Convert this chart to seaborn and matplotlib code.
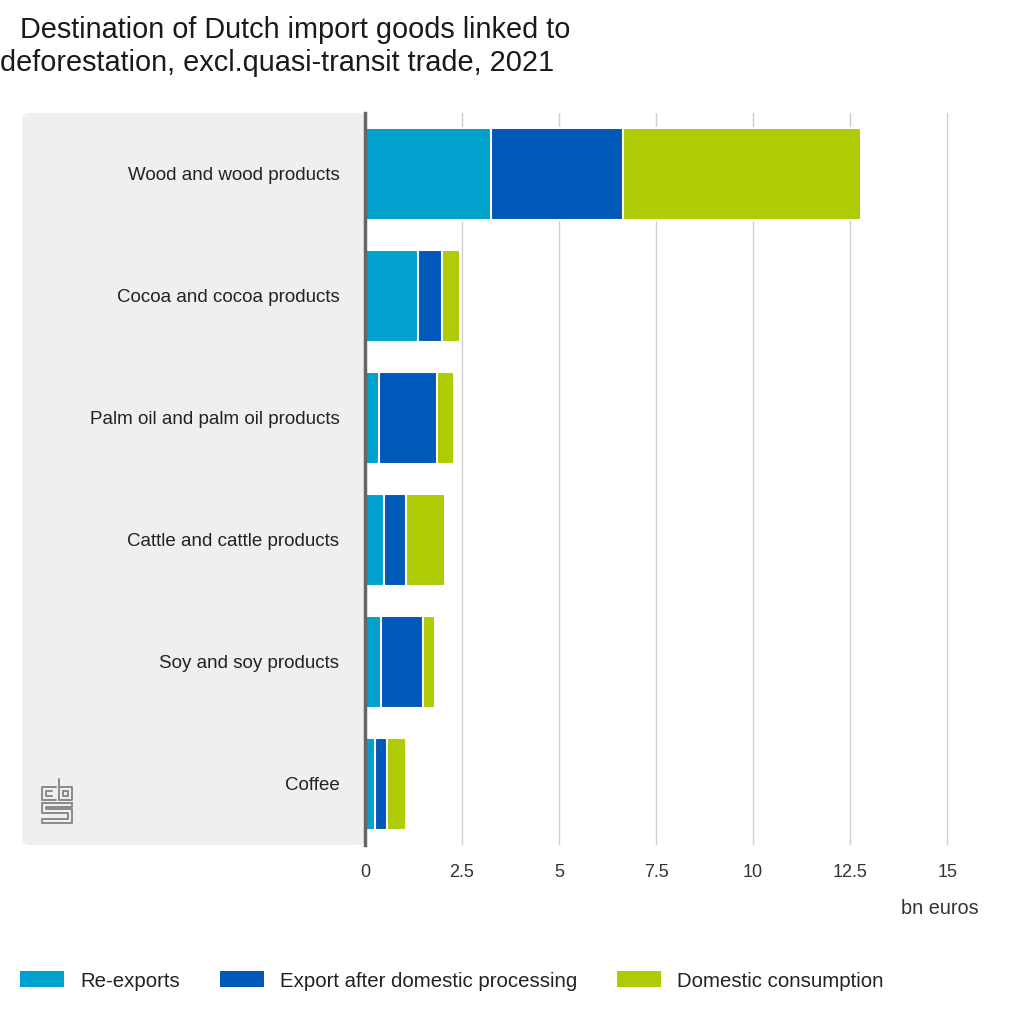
import numpy as np
import pandas as pd
import matplotlib
matplotlib.use("Agg")
import matplotlib.pyplot as plt
import seaborn as sns
from matplotlib.patches import FancyBboxPatch, Patch
from matplotlib.lines import Line2D

categories = ["Wood and wood products", "Cocoa and cocoa products",
              "Palm oil and palm oil products", "Cattle and cattle products",
              "Soy and soy products", "Coffee"]
re_exports = [3.24, 1.37, 0.36, 0.50, 0.40, 0.27]
export_processing = [3.40, 0.61, 1.49, 0.56, 1.10, 0.30]
domestic = [6.14, 0.47, 0.44, 1.01, 0.31, 0.48]
series_names = ["Re-exports", "Export after domestic processing", "Domestic consumption"]
xticks = [0, 2.5, 5, 7.5, 10, 12.5, 15]
xtick_labels = ["0", "2.5", "5", "7.5", "10", "12.5", "15"]

colors = ["#00a1cd", "#0058b8", "#afcb05"]

sns.set_theme(style="white")
plt.rcParams["font.family"] = ["Liberation Sans", "DejaVu Sans"]

W = H = 1024
fig = plt.figure(figsize=(10.24, 10.24), dpi=100)

def fx(px):
    return px / W

def fy(py):
    return 1 - py / H

# gray panel behind category labels
panel = FancyBboxPatch((fx(22), fy(845)), fx(365) - fx(22), fy(113) - fy(845),
                       boxstyle="round,pad=0,rounding_size=0.007",
                       transform=fig.transFigure, facecolor="#efefef",
                       edgecolor="none", zorder=-5)
fig.patches.append(panel)

ax = fig.add_axes([fx(365), fy(845), (986 - 365) / W, (845 - 113) / H])
ax.set_facecolor("none")

df = pd.DataFrame({"category": categories,
                   "r": re_exports, "e": export_processing, "d": domestic})
df["c1"] = df["r"]
df["c2"] = df["r"] + df["e"]
df["c3"] = df["c2"] + df["d"]

for col, color in zip(["c3", "c2", "c1"], colors[::-1]):
    sns.barplot(data=df, x=col, y="category", orient="h", color=color,
                width=0.76, edgecolor="white", linewidth=1.5, ax=ax,
                saturation=1, zorder=3)

ax.set_xlim(0, 16)
ax.set_ylim(5.5, -0.5)
ax.set_xticks(xticks)
ax.set_xticklabels(xtick_labels)
ax.set_yticks(range(len(categories)))
ax.set_yticklabels(categories)
ax.set_xlabel("")
ax.set_ylabel("")
ax.grid(axis="x", color="#d0d0d0", linewidth=1, zorder=0)
ax.grid(axis="y", visible=False)
for s in ["top", "right", "bottom"]:
    ax.spines[s].set_visible(False)
ax.spines["left"].set_color("#666666")
ax.spines["left"].set_linewidth(2.5)
ax.spines["left"].set_zorder(5)
ax.tick_params(axis="y", length=0, pad=18.5, labelsize=13.5, labelcolor="#222222")
ax.tick_params(axis="x", length=0, pad=14, labelsize=13, labelcolor="#333333")

# title
fig.text(fx(20), fy(30), "Destination of Dutch import goods linked to",
         fontsize=20.8, color="#1a1a1a", ha="left", va="center")
fig.text(fx(0), fy(63), "deforestation, excl.quasi-transit trade, 2021",
         fontsize=20.8, color="#1a1a1a", ha="left", va="center")

fig.text(fx(979), fy(908), "bn euros", fontsize=14.3, color="#333333",
         ha="right", va="center")

handles = [Patch(facecolor=c, edgecolor="none") for c in colors]
fig.legend(handles, series_names, loc="center left",
           bbox_to_anchor=(fx(20), fy(981)), ncol=3, frameon=False,
           fontsize=14.7, handlelength=2.15, handleheight=0.83,
           handletextpad=0.8, columnspacing=1.95, borderpad=0,
           borderaxespad=0, labelcolor="#222222")

# simplified CBS logo
lc = "#8a8a8a"
def pl(xs, ys):
    fig.add_artist(Line2D([fx(x) for x in xs], [fy(y) for y in ys],
                          color=lc, linewidth=1.4, transform=fig.transFigure))
pl([56, 42, 42, 56], [787, 787, 800, 800])
pl([52, 46, 46, 52], [791, 791, 796, 796])
pl([59, 59, 72, 72, 59], [779, 800, 800, 787, 787])
pl([63, 68, 68, 63, 63], [791, 791, 796, 796, 791])
pl([72, 42, 42, 68, 68, 42, 42, 72, 72, 46, 46, 72, 72], [803, 803, 813, 813, 819, 819, 823, 823, 809, 809, 807, 807, 803])

fig.savefig("out.png", dpi=100)
